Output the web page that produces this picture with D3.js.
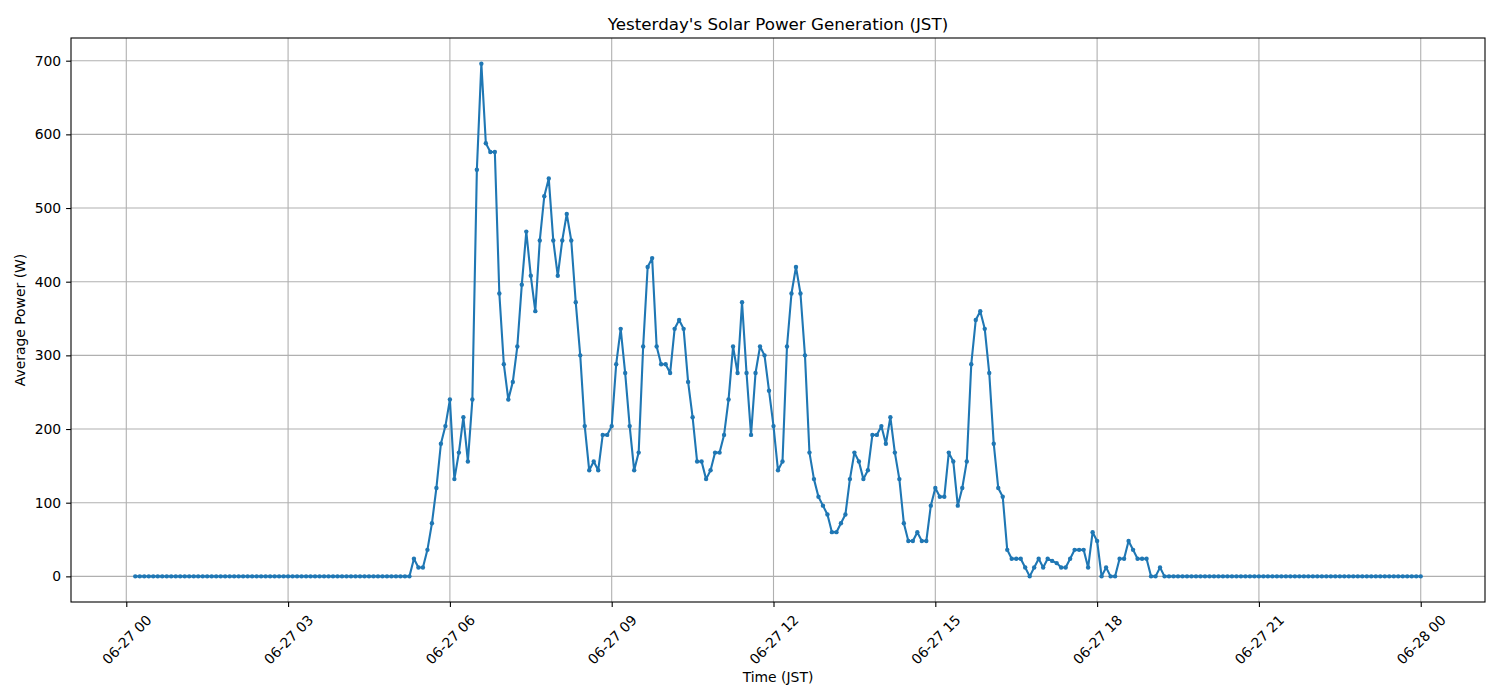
<!DOCTYPE html>
<html lang="en">
<head>
  <title>Yesterday's Solar Power Generation</title>
  <meta charset="utf-8"/>
  <script src="https://cdnjs.cloudflare.com/ajax/libs/d3/7.8.5/d3.min.js"></script>
  <style>
    body { margin: 0; background: #fff; }
    svg { display: block; font-family: "DejaVu Sans", sans-serif; }
  </style>
</head>
<body>
<svg id="chart" width="1500" height="700"></svg>

<script>
  // samples every 5 minutes, first one at 06-27 00:10 JST
  var startTime = Date.UTC(2024, 5, 27, 0, 10);
  var stepMinutes = 5;

  // average power (W), one row per hour
  var power = [].concat(
    [0, 0, 0, 0, 0, 0, 0, 0, 0, 0],                                // 00:10-00:55
    [0, 0, 0, 0, 0, 0, 0, 0, 0, 0, 0, 0],                          // 01
    [0, 0, 0, 0, 0, 0, 0, 0, 0, 0, 0, 0],                          // 02
    [0, 0, 0, 0, 0, 0, 0, 0, 0, 0, 0, 0],                          // 03
    [0, 0, 0, 0, 0, 0, 0, 0, 0, 0, 0, 0],                          // 04
    [0, 0, 0, 0, 24, 12, 12, 36, 72, 120, 180, 204],               // 05
    [240, 132, 168, 216, 156, 240, 552, 696, 588, 576, 576, 384],  // 06
    [288, 240, 264, 312, 396, 468, 408, 360, 456, 516, 540, 456],  // 07
    [408, 456, 492, 456, 372, 300, 204, 144, 156, 144, 192, 192],  // 08
    [204, 288, 336, 276, 204, 144, 168, 312, 420, 432, 312, 288],  // 09
    [288, 276, 336, 348, 336, 264, 216, 156, 156, 132, 144, 168],  // 10
    [168, 192, 240, 312, 276, 372, 276, 192, 276, 312, 300, 252],  // 11
    [204, 144, 156, 312, 384, 420, 384, 300, 168, 132, 108, 96],   // 12
    [84, 60, 60, 72, 84, 132, 168, 156, 132, 144, 192, 192],       // 13
    [204, 180, 216, 168, 132, 72, 48, 48, 60, 48, 48, 96],         // 14
    [120, 108, 108, 168, 156, 96, 120, 156, 288, 348, 360, 336],   // 15
    [276, 180, 120, 108, 36, 24, 24, 24, 12, 0, 12, 24],           // 16
    [12, 24, 21, 18, 12, 12, 24, 36, 36, 36, 12, 60],              // 17
    [48, 0, 12, 0, 0, 24, 24, 48, 36, 24, 24, 24],                 // 18
    [0, 0, 12, 0, 0, 0, 0, 0, 0, 0, 0, 0],                         // 19
    [0, 0, 0, 0, 0, 0, 0, 0, 0, 0, 0, 0],                          // 20
    [0, 0, 0, 0, 0, 0, 0, 0, 0, 0, 0, 0],                          // 21
    [0, 0, 0, 0, 0, 0, 0, 0, 0, 0, 0, 0],                          // 22
    [0, 0, 0, 0, 0, 0, 0, 0, 0, 0, 0, 0],                          // 23
    [0]                                                            // 28th 00:00
  );

  var yTicks = [0, 100, 200, 300, 400, 500, 600, 700];
  var xTickHours = 3;

  var data = power.map(function(v, i) {
    return { t: new Date(startTime + i * stepMinutes * 60000), w: v };
  });

  var svg = d3.select("#chart");
  var plotL = 71, plotR = 1485, plotT = 38, plotB = 602;
  var blue = "#1f77b4", gridColor = "#b0b0b0";

  // matplotlib style 5% padding around the data
  var tExt = d3.extent(data, function(d) { return +d.t; });
  var wExt = d3.extent(data, function(d) { return d.w; });
  var tPad = (tExt[1] - tExt[0]) * 0.05, wPad = (wExt[1] - wExt[0]) * 0.05;

  var x = d3.scaleUtc()
    .domain([new Date(tExt[0] - tPad), new Date(tExt[1] + tPad)])
    .range([plotL, plotR]);
  var y = d3.scaleLinear()
    .domain([wExt[0] - wPad, wExt[1] + wPad])
    .range([plotB, plotT]);

  var xTickVals = x.ticks(d3.utcHour.every(xTickHours));
  var fmt = d3.utcFormat("%m-%d %H");

  // grid
  svg.append("g")
    .selectAll("line")
    .data(xTickVals)
    .enter().append("line")
    .attr("x1", function(d) { return x(d); })
    .attr("x2", function(d) { return x(d); })
    .attr("y1", plotT).attr("y2", plotB)
    .attr("stroke", gridColor).attr("stroke-width", 1.1);
  svg.append("g")
    .selectAll("line")
    .data(yTicks)
    .enter().append("line")
    .attr("y1", function(d) { return y(d); })
    .attr("y2", function(d) { return y(d); })
    .attr("x1", plotL).attr("x2", plotR)
    .attr("stroke", gridColor).attr("stroke-width", 1.1);

  // series
  var line = d3.line()
    .x(function(d) { return x(d.t); })
    .y(function(d) { return y(d.w); });

  svg.append("path")
    .datum(data)
    .attr("d", line)
    .attr("fill", "none")
    .attr("stroke", blue)
    .attr("stroke-width", 2.1)
    .attr("stroke-linejoin", "round");

  svg.append("g")
    .selectAll("circle")
    .data(data)
    .enter().append("circle")
    .attr("cx", function(d) { return x(d.t); })
    .attr("cy", function(d) { return y(d.w); })
    .attr("r", 2.2)
    .attr("fill", blue);

  // axes
  var xAxis = svg.append("g")
    .attr("transform", "translate(0," + plotB + ")")
    .call(d3.axisBottom(x).tickValues(xTickVals).tickFormat(fmt).tickSize(4.9).tickSizeOuter(0));
  var yAxis = svg.append("g")
    .attr("transform", "translate(" + plotL + ",0)")
    .call(d3.axisLeft(y).tickValues(yTicks).tickSize(4.9).tickSizeOuter(0).tickPadding(4.9));

  [xAxis, yAxis].forEach(function(a) {
    a.select(".domain").remove();
    a.selectAll(".tick line").attr("stroke", "#000").attr("stroke-width", 1.1);
    a.selectAll("text")
      .attr("fill", "#000")
      .style("font-size", "13.9px")
      .style("font-family", "'DejaVu Sans', sans-serif");
  });

  // rotated x tick labels, bbox centred under the tick
  xAxis.selectAll(".tick text").each(function() {
    var t = d3.select(this);
    var w = this.getComputedTextLength(), h = 16;
    var off = (w + h) / (2 * Math.SQRT2);
    t.attr("y", null).attr("dy", null)
      .attr("text-anchor", "middle")
      .attr("dominant-baseline", "central")
      .attr("transform", "translate(0," + (9.8 + off) + ") rotate(-45)");
  });

  // spines
  svg.append("rect")
    .attr("x", plotL).attr("y", plotT)
    .attr("width", plotR - plotL).attr("height", plotB - plotT)
    .attr("fill", "none").attr("stroke", "#000").attr("stroke-width", 1.1);

  // titles
  svg.append("text")
    .attr("x", (plotL + plotR) / 2).attr("y", 29.5)
    .attr("text-anchor", "middle")
    .style("font-size", "16.7px")
    .text("Yesterday's Solar Power Generation (JST)");

  svg.append("text")
    .attr("x", (plotL + plotR) / 2).attr("y", 682)
    .attr("text-anchor", "middle")
    .style("font-size", "13.9px")
    .text("Time (JST)");

  svg.append("text")
    .attr("transform", "translate(25," + (plotT + plotB) / 2 + ") rotate(-90)")
    .attr("text-anchor", "middle")
    .style("font-size", "13.9px")
    .text("Average Power (W)");
</script>
</body>
</html>
